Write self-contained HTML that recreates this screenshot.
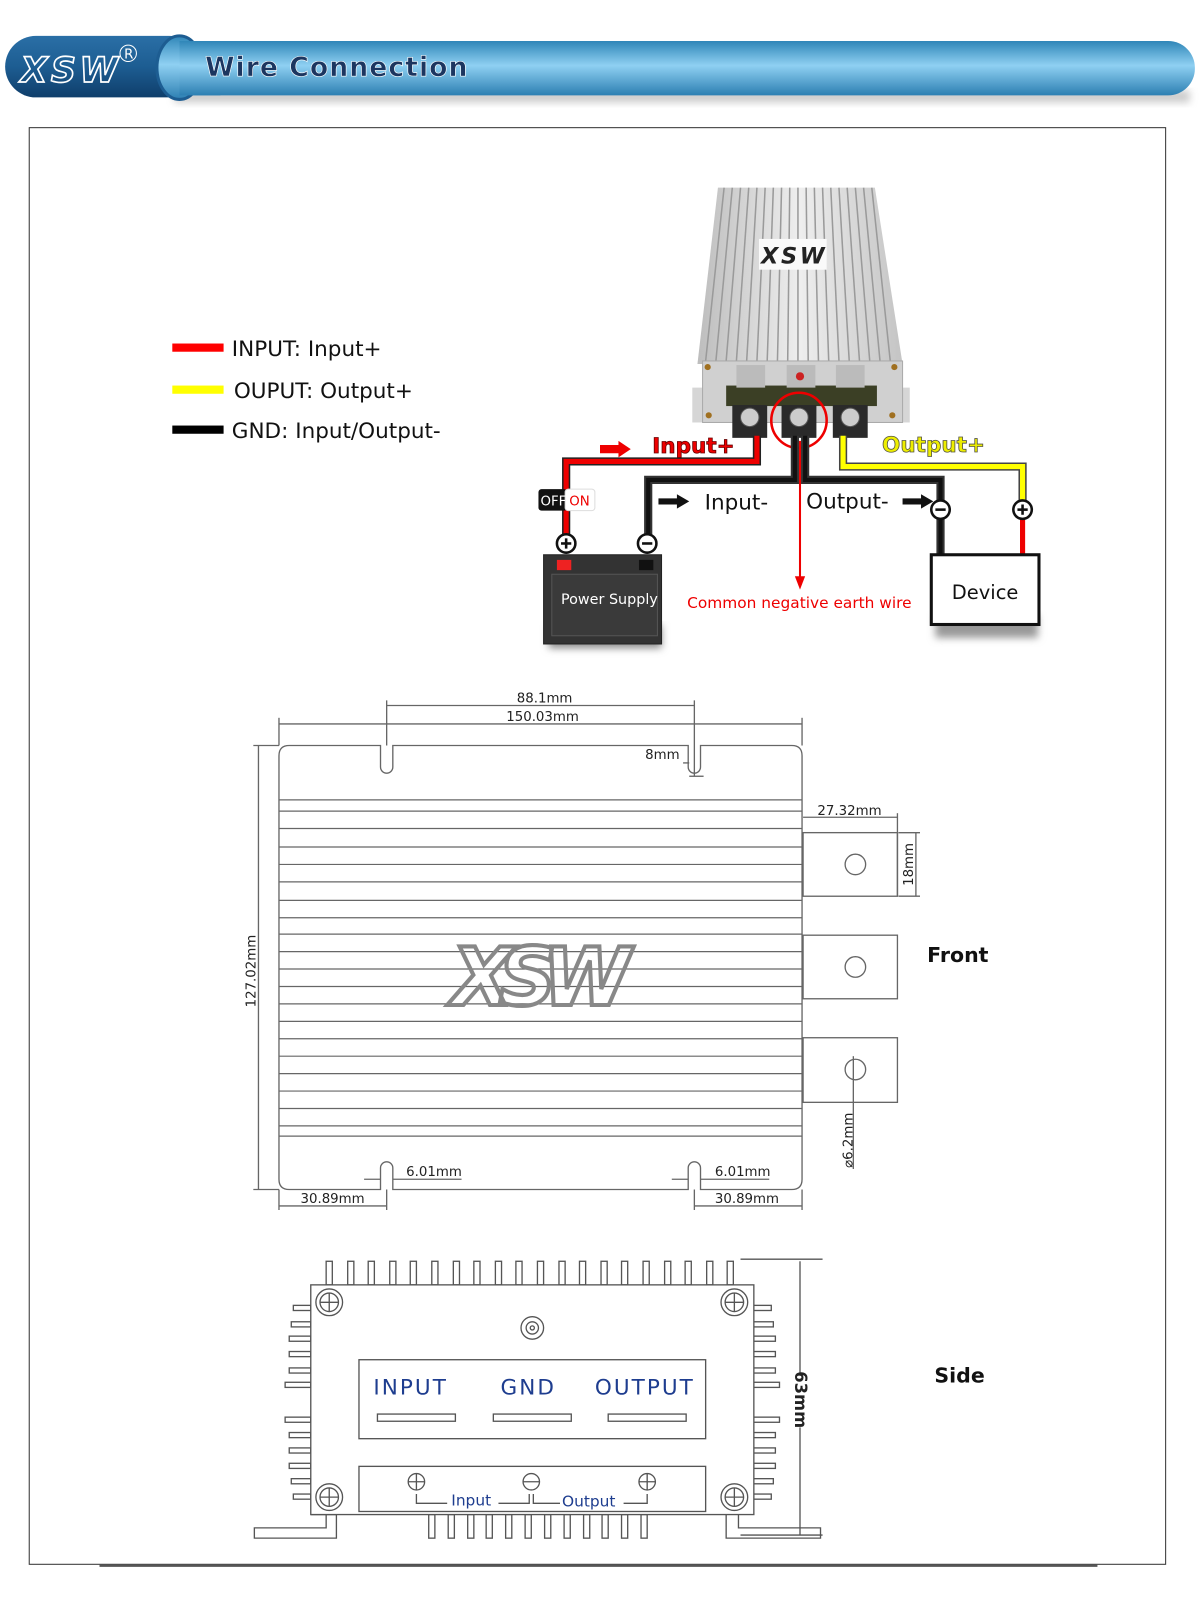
<!DOCTYPE html>
<html><head><meta charset="utf-8"><style>
html,body{margin:0;padding:0;background:#fff;}
svg{display:block;}
text{font-family:"DejaVu Sans","Liberation Sans",sans-serif;}
</style></head><body>
<svg width="1200" height="1613" viewBox="0 0 1170 1573" preserveAspectRatio="none" xmlns="http://www.w3.org/2000/svg">
<defs>
<linearGradient id="bar" x1="0" y1="0" x2="0" y2="1">
<stop offset="0" stop-color="#2f86b8"/><stop offset="0.45" stop-color="#8fd0f2"/><stop offset="1" stop-color="#2c7fb2"/></linearGradient>
<linearGradient id="logo" x1="0" y1="0" x2="0" y2="1">
<stop offset="0" stop-color="#2a6fa6"/><stop offset="0.5" stop-color="#1d5d92"/><stop offset="1" stop-color="#0f3e6b"/></linearGradient>
<linearGradient id="alu" x1="0" y1="0" x2="1" y2="0">
<stop offset="0" stop-color="#bdbdbd"/><stop offset="0.5" stop-color="#eeeeee"/><stop offset="1" stop-color="#c4c4c4"/></linearGradient>
<filter id="sh" x="-20%" y="-20%" width="140%" height="160%"><feGaussianBlur stdDeviation="4"/></filter>
<marker id="ar" markerWidth="10" markerHeight="10" refX="5" refY="5" orient="auto"><path d="M0,1 L10,5 L0,9z" fill="#333"/></marker>
</defs>

<!-- HEADER -->
<rect x="170" y="88" width="990" height="12" fill="#999" opacity="0.5" filter="url(#sh)"/>
<rect x="155" y="40" width="1010" height="53" rx="26" fill="url(#bar)"/>
<rect x="5" y="35" width="190" height="60" rx="30" fill="url(#logo)"/>
<ellipse cx="175" cy="66" rx="22" ry="31" fill="url(#bar)" stroke="#1d5d92" stroke-width="3"/>
<rect x="175" y="40" width="40" height="53" fill="url(#bar)"/>
<text x="20" y="80" font-size="34" font-style="italic" font-weight="bold" fill="none" stroke="#fff" stroke-width="1.6" font-family="Liberation Sans" textLength="95">XSW</text>
<text x="121" y="57" font-size="13" fill="#fff">R</text>
<circle cx="125" cy="52" r="8" fill="none" stroke="#fff" stroke-width="1"/>
<text x="200" y="74" font-size="26" font-weight="bold" fill="#1c3660" stroke="#fff" stroke-width="0.6" letter-spacing="1">Wire Connection</text>

<!-- FRAME -->
<rect x="28.5" y="124.5" width="1108" height="1401" fill="none" stroke="#333" stroke-width="1"/>
<line x1="97" y1="1527" x2="1070" y2="1527" stroke="#555" stroke-width="2"/>

<!-- LEGEND -->
<rect x="168" y="335" width="50" height="8" fill="#f00"/>
<rect x="168" y="376" width="50" height="8" fill="#ff0"/>
<rect x="168" y="415" width="50" height="8" fill="#000"/>
<g font-size="21" fill="#111">
<text x="226" y="347">INPUT: Input+</text>
<text x="228" y="388">OUPUT: Output+</text>
<text x="226" y="427">GND: Input/Output-</text>
</g>

<!-- CONVERTER -->
<polygon points="700,183 853,183 880,355 680,355" fill="url(#alu)"/>
<g stroke="#9a9a9a" stroke-width="1.5">
<line x1="706" y1="183" x2="688" y2="352"/><line x1="714" y1="183" x2="698" y2="352"/><line x1="722" y1="183" x2="708" y2="352"/><line x1="730" y1="183" x2="718" y2="352"/><line x1="738" y1="183" x2="728" y2="352"/><line x1="746" y1="183" x2="738" y2="352"/><line x1="754" y1="183" x2="748" y2="352"/><line x1="762" y1="183" x2="758" y2="352"/><line x1="770" y1="183" x2="768" y2="352"/><line x1="778" y1="183" x2="778" y2="352"/><line x1="786" y1="183" x2="788" y2="352"/><line x1="794" y1="183" x2="798" y2="352"/><line x1="802" y1="183" x2="808" y2="352"/><line x1="810" y1="183" x2="818" y2="352"/><line x1="818" y1="183" x2="828" y2="352"/><line x1="826" y1="183" x2="838" y2="352"/><line x1="834" y1="183" x2="848" y2="352"/><line x1="842" y1="183" x2="858" y2="352"/><line x1="850" y1="183" x2="868" y2="352"/>
</g>
<rect x="740" y="233" width="66" height="30" fill="#fafafa"/>
<text x="742" y="257" font-size="22" font-weight="bold" font-style="italic" fill="#222" font-family="Liberation Sans" textLength="62">XSW</text>
<rect x="675" y="378" width="212" height="34" fill="#d6d6d6"/>
<rect x="685" y="352" width="195" height="60" fill="#d0d0d0" stroke="#aaa"/>
<rect x="708" y="376" width="147" height="20" fill="#3b3f25"/>
<rect x="718" y="356" width="28" height="22" fill="#bbb"/><rect x="767" y="356" width="28" height="22" fill="#bbb"/><rect x="815" y="356" width="28" height="22" fill="#bbb"/>
<circle cx="780" cy="367" r="4" fill="#c22"/>
<circle cx="690" cy="358" r="3" fill="#a07020"/><circle cx="872" cy="358" r="3" fill="#a07020"/><circle cx="691" cy="405" r="3" fill="#a07020"/><circle cx="870" cy="405" r="3" fill="#a07020"/>
<rect x="714" y="395" width="34" height="32" fill="#2a2a2a"/><rect x="762" y="395" width="34" height="32" fill="#2a2a2a"/><rect x="812" y="395" width="34" height="32" fill="#2a2a2a"/>
<circle cx="731" cy="407" r="9" fill="#ccc" stroke="#555"/><circle cx="779" cy="407" r="9" fill="#ccc" stroke="#555"/><circle cx="829" cy="407" r="9" fill="#ccc" stroke="#555"/>
<circle cx="779" cy="410" r="27" fill="none" stroke="#e00" stroke-width="2.5"/>

<!-- WIRES -->
<path d="M738,425 V450 H552 V530" fill="none" stroke="#222" stroke-width="8"/>
<path d="M738,425 V450 H552 V530" fill="none" stroke="#e00" stroke-width="5"/>
<path d="M775,425 V468 H632 V530" fill="none" stroke="#333" stroke-width="8"/>
<path d="M775,425 V468 H632 V530" fill="none" stroke="#111" stroke-width="4"/>
<path d="M785,425 V468 H917 V541" fill="none" stroke="#333" stroke-width="8"/>
<path d="M785,425 V468 H917 V541" fill="none" stroke="#111" stroke-width="4"/>
<path d="M822,425 V455 H997 V497" fill="none" stroke="#444" stroke-width="8"/>
<path d="M822,425 V455 H997 V497" fill="none" stroke="#ff0" stroke-width="5"/>
<line x1="997" y1="497" x2="997" y2="541" stroke="#e00" stroke-width="5"/>
<line x1="780" y1="430" x2="780" y2="565" stroke="#e00" stroke-width="2"/>
<polygon points="775,562 785,562 780,575" fill="#e00"/>
<polygon points="585,434 603,434 603,430 615,438 603,446 603,442 585,442" fill="#e00"/>
<polygon points="642,486 660,486 660,482 672,489 660,496 660,492 642,492" fill="#111"/>
<polygon points="880,486 898,486 898,482 910,489 898,496 898,492 880,492" fill="#111"/>
<text x="636" y="442" font-size="21" font-weight="bold" fill="#e00" stroke="#600" stroke-width="0.8">Input+</text>
<text x="860" y="441" font-size="21" font-weight="bold" fill="#ee0" stroke="#554" stroke-width="0.8">Output+</text>
<text x="687" y="497" font-size="21" fill="#111">Input-</text>
<text x="786" y="496" font-size="21" fill="#111">Output-</text>
<text x="670" y="593" font-size="15" fill="#e00">Common negative earth wire</text>
<!-- switch -->
<rect x="525" y="477" width="28" height="21" rx="3" fill="#111"/>
<rect x="551" y="477" width="29" height="21" rx="3" fill="#fff" stroke="#ddd"/>
<text x="527" y="493" font-size="13" fill="#fff">OFF</text>
<text x="555" y="493" font-size="13" fill="#e00">ON</text>
<!-- terminals circles -->
<g stroke="#111" stroke-width="2.5" fill="#fff">
<circle cx="552" cy="530" r="9"/><circle cx="631" cy="530" r="9"/><circle cx="917" cy="497" r="9"/><circle cx="997" cy="497" r="9"/>
</g>
<g stroke="#111" stroke-width="2.5">
<line x1="547" y1="530" x2="557" y2="530"/><line x1="552" y1="525" x2="552" y2="535"/>
<line x1="626" y1="530" x2="636" y2="530"/><line x1="912" y1="497" x2="922" y2="497"/>
<line x1="992" y1="497" x2="1002" y2="497"/><line x1="997" y1="492" x2="997" y2="502"/>
</g>
<!-- battery -->
<rect x="535" y="610" width="110" height="22" fill="#888" filter="url(#sh)"/>
<rect x="530" y="541" width="115" height="87" fill="#333" stroke="#222"/>
<rect x="543" y="546" width="14" height="10" fill="#e22"/><rect x="623" y="546" width="14" height="10" fill="#111"/>
<rect x="538" y="560" width="103" height="60" fill="#3a3a3a" stroke="#555"/>
<text x="547" y="589" font-size="14" fill="#fff">Power Supply</text>
<!-- device -->
<rect x="912" y="600" width="100" height="22" fill="#999" filter="url(#sh)"/>
<rect x="908" y="541" width="105" height="68" fill="#fff" stroke="#111" stroke-width="3"/>
<text x="928" y="584" font-size="19" fill="#111">Device</text>

<!-- FRONT DIMENSION DRAWING -->
<g stroke="#666" stroke-width="1.3" fill="none">
<path d="M282,727 H371 V748 A6,6 0 0 0 383,748 V727 H671 V748 A6,6 0 0 0 683,748 V727 H772 Q782,727 782,737 V1150 Q782,1160 772,1160 H683 V1139 A6,6 0 0 0 671,1139 V1160 H383 V1139 A6,6 0 0 0 371,1139 V1160 H282 Q272,1160 272,1150 V737 Q272,727 282,727 Z"/>
<g stroke-width="1.2">
<line x1="272" y1="780" x2="782" y2="780"/><line x1="272" y1="791" x2="782" y2="791"/><line x1="272" y1="808" x2="782" y2="808"/><line x1="272" y1="826" x2="782" y2="826"/><line x1="272" y1="843" x2="782" y2="843"/><line x1="272" y1="860" x2="782" y2="860"/><line x1="272" y1="878" x2="782" y2="878"/><line x1="272" y1="895" x2="782" y2="895"/><line x1="272" y1="911" x2="782" y2="911"/><line x1="272" y1="928" x2="782" y2="928"/><line x1="272" y1="945" x2="782" y2="945"/><line x1="272" y1="962" x2="782" y2="962"/><line x1="272" y1="979" x2="782" y2="979"/><line x1="272" y1="996" x2="782" y2="996"/><line x1="272" y1="1013" x2="782" y2="1013"/><line x1="272" y1="1030" x2="782" y2="1030"/><line x1="272" y1="1047" x2="782" y2="1047"/><line x1="272" y1="1064" x2="782" y2="1064"/><line x1="272" y1="1081" x2="782" y2="1081"/><line x1="272" y1="1098" x2="782" y2="1098"/><line x1="272" y1="1108" x2="782" y2="1108"/>
</g>
<rect x="783" y="812" width="92" height="62"/><rect x="783" y="912" width="92" height="62"/><rect x="783" y="1012" width="92" height="63"/>
<circle cx="834" cy="843" r="10"/><circle cx="834" cy="943" r="10"/><circle cx="834" cy="1043" r="10"/>
<!-- dims -->
<line x1="272" y1="700" x2="272" y2="727"/><line x1="782" y1="700" x2="782" y2="727"/>
<line x1="272" y1="706" x2="782" y2="706"/>
<line x1="377" y1="683" x2="377" y2="727"/><line x1="677" y1="683" x2="677" y2="757"/>
<line x1="377" y1="688" x2="677" y2="688"/>
<line x1="666" y1="744" x2="672" y2="744"/><line x1="672" y1="757" x2="686" y2="757"/>
<line x1="247" y1="727" x2="272" y2="727"/><line x1="247" y1="1160" x2="272" y2="1160"/>
<line x1="252" y1="727" x2="252" y2="1160"/>
<line x1="783" y1="797" x2="875" y2="797"/><line x1="875" y1="793" x2="875" y2="874"/>
<line x1="876" y1="812" x2="897" y2="812"/><line x1="876" y1="874" x2="897" y2="874"/>
<line x1="893" y1="812" x2="893" y2="874"/>
<line x1="832" y1="1030" x2="832" y2="1140"/>
<line x1="355" y1="1150" x2="371" y2="1150"/><line x1="383" y1="1150" x2="450" y2="1150"/>
<line x1="655" y1="1150" x2="671" y2="1150"/><line x1="683" y1="1150" x2="750" y2="1150"/>
<line x1="272" y1="1160" x2="272" y2="1180"/><line x1="377" y1="1160" x2="377" y2="1180"/>
<line x1="677" y1="1160" x2="677" y2="1180"/><line x1="782" y1="1160" x2="782" y2="1180"/>
<line x1="272" y1="1176" x2="377" y2="1176"/><line x1="677" y1="1176" x2="782" y2="1176"/>
</g>
<text x="440" y="980" font-size="78" font-weight="bold" font-style="italic" fill="none" stroke="#888" stroke-width="4" font-family="Liberation Sans" textLength="175">XSW</text>
<g font-size="13" fill="#222">
<text x="531" y="685" text-anchor="middle">88.1mm</text>
<text x="529" y="703" text-anchor="middle">150.03mm</text>
<text x="629" y="740">8mm</text>
<text x="797" y="795">27.32mm</text>
<text x="396" y="1147">6.01mm</text>
<text x="697" y="1147">6.01mm</text>
<text x="293" y="1173">30.89mm</text>
<text x="697" y="1173">30.89mm</text>
<text transform="translate(249,947) rotate(-90)" text-anchor="middle">127.02mm</text>
<text transform="translate(890,843) rotate(-90)" text-anchor="middle">18mm</text>
<text transform="translate(831,1112) rotate(-90)" text-anchor="middle">⌀6.2mm</text>
</g>
<text x="904" y="938" font-size="20" font-weight="bold" fill="#111">Front</text>

<!-- SIDE VIEW -->
<g stroke="#555" stroke-width="1.3" fill="#fff">
<rect x="318" y="1230" width="6" height="23"/><rect x="339" y="1230" width="6" height="23"/><rect x="359" y="1230" width="6" height="23"/><rect x="380" y="1230" width="6" height="23"/><rect x="400" y="1230" width="6" height="23"/><rect x="421" y="1230" width="6" height="23"/><rect x="442" y="1230" width="6" height="23"/><rect x="462" y="1230" width="6" height="23"/><rect x="483" y="1230" width="6" height="23"/><rect x="503" y="1230" width="6" height="23"/><rect x="524" y="1230" width="6" height="23"/><rect x="545" y="1230" width="6" height="23"/><rect x="565" y="1230" width="6" height="23"/><rect x="586" y="1230" width="6" height="23"/><rect x="606" y="1230" width="6" height="23"/><rect x="627" y="1230" width="6" height="23"/><rect x="648" y="1230" width="6" height="23"/><rect x="668" y="1230" width="6" height="23"/><rect x="689" y="1230" width="6" height="23"/><rect x="709" y="1230" width="6" height="23"/>
<rect x="418" y="1477" width="6" height="23"/><rect x="437" y="1477" width="6" height="23"/><rect x="456" y="1477" width="6" height="23"/><rect x="474" y="1477" width="6" height="23"/><rect x="493" y="1477" width="6" height="23"/><rect x="512" y="1477" width="6" height="23"/><rect x="531" y="1477" width="6" height="23"/><rect x="550" y="1477" width="6" height="23"/><rect x="569" y="1477" width="6" height="23"/><rect x="587" y="1477" width="6" height="23"/><rect x="606" y="1477" width="6" height="23"/><rect x="625" y="1477" width="6" height="23"/>
<rect x="286" y="1273" width="17" height="5"/><rect x="284" y="1289" width="19" height="5"/><rect x="282" y="1303" width="21" height="5"/><rect x="282" y="1318" width="21" height="5"/><rect x="282" y="1334" width="21" height="5"/><rect x="278" y="1348" width="25" height="5"/>
<rect x="278" y="1382" width="25" height="5"/><rect x="282" y="1397" width="21" height="5"/><rect x="282" y="1412" width="21" height="5"/><rect x="282" y="1427" width="21" height="5"/><rect x="284" y="1442" width="19" height="5"/><rect x="286" y="1457" width="17" height="5"/>
<rect x="735" y="1273" width="17" height="5"/><rect x="735" y="1289" width="19" height="5"/><rect x="735" y="1303" width="21" height="5"/><rect x="735" y="1318" width="21" height="5"/><rect x="735" y="1334" width="21" height="5"/><rect x="735" y="1348" width="25" height="5"/>
<rect x="735" y="1382" width="25" height="5"/><rect x="735" y="1397" width="21" height="5"/><rect x="735" y="1412" width="21" height="5"/><rect x="735" y="1427" width="21" height="5"/><rect x="735" y="1442" width="19" height="5"/><rect x="735" y="1457" width="17" height="5"/>
<path d="M303,1477 H328 V1500 H248 V1490 H318 V1477"/>
<path d="M708,1477 V1500 H800 V1490 H720 V1477"/>
<rect x="303" y="1253" width="432" height="224"/>
<rect x="350" y="1326" width="338" height="77"/>
<rect x="350" y="1430" width="338" height="44"/>
<rect x="368" y="1379" width="76" height="7"/><rect x="481" y="1379" width="76" height="7"/><rect x="593" y="1379" width="76" height="7"/>
<circle cx="321" cy="1270" r="13"/><circle cx="321" cy="1270" r="9"/>
<circle cx="716" cy="1270" r="13"/><circle cx="716" cy="1270" r="9"/>
<circle cx="321" cy="1460" r="13"/><circle cx="321" cy="1460" r="9"/>
<circle cx="716" cy="1460" r="13"/><circle cx="716" cy="1460" r="9"/>
<circle cx="519" cy="1295" r="11"/><circle cx="519" cy="1295" r="6"/><circle cx="519" cy="1295" r="2"/>
<circle cx="406" cy="1445" r="8"/><circle cx="518" cy="1445" r="8"/><circle cx="631" cy="1445" r="8"/>
</g>
<g stroke="#555" stroke-width="1.3">
<line x1="312" y1="1270" x2="330" y2="1270"/><line x1="321" y1="1261" x2="321" y2="1279"/>
<line x1="707" y1="1270" x2="725" y2="1270"/><line x1="716" y1="1261" x2="716" y2="1279"/>
<line x1="312" y1="1460" x2="330" y2="1460"/><line x1="321" y1="1451" x2="321" y2="1469"/>
<line x1="707" y1="1460" x2="725" y2="1460"/><line x1="716" y1="1451" x2="716" y2="1469"/>
<line x1="398" y1="1445" x2="414" y2="1445"/><line x1="406" y1="1437" x2="406" y2="1453"/>
<line x1="510" y1="1445" x2="526" y2="1445"/>
<line x1="623" y1="1445" x2="639" y2="1445"/><line x1="631" y1="1437" x2="631" y2="1453"/>
<path d="M406,1457 V1466 H436 M486,1466 H516 V1457 M520,1457 V1466 H546 M608,1466 H631 V1457" fill="none"/>
<line x1="722" y1="1228" x2="802" y2="1228"/><line x1="722" y1="1497" x2="802" y2="1497"/>
<line x1="780" y1="1230" x2="780" y2="1340"/><line x1="780" y1="1392" x2="780" y2="1497"/>
</g>
<g fill="#1e3d8f">
<text x="364" y="1360" font-size="21" letter-spacing="2">INPUT</text>
<text x="488" y="1360" font-size="21" letter-spacing="2">GND</text>
<text x="580" y="1360" font-size="21" letter-spacing="2">OUTPUT</text>
<text x="440" y="1468" font-size="15">Input</text>
<text x="548" y="1469" font-size="15">Output</text>
</g>
<text transform="translate(775,1365) rotate(90)" text-anchor="middle" font-size="16" font-weight="bold" fill="#222">63mm</text>
<text x="911" y="1348" font-size="20" font-weight="bold" fill="#111">Side</text>
</svg>
</body></html>
